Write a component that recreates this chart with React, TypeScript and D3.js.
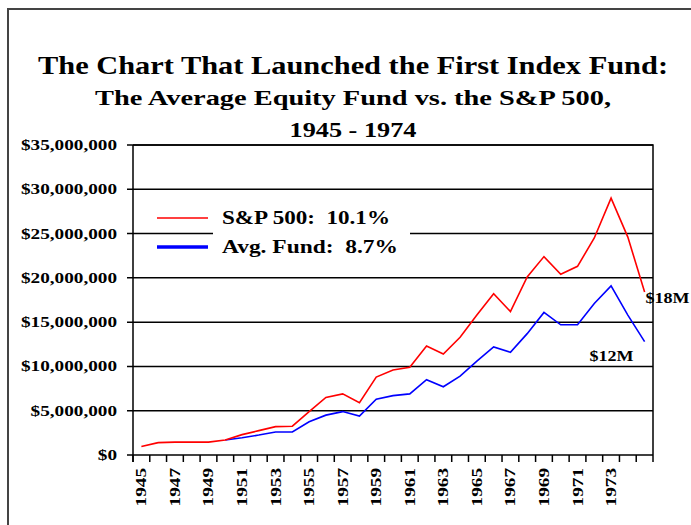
import { useEffect, useRef } from "react";
import * as d3 from "d3";

// values in $ millions, one point per year
const years = [
  1945, 1946, 1947, 1948, 1949, 1950, 1951, 1952, 1953, 1954, 1955, 1956,
  1957, 1958, 1959, 1960, 1961, 1962, 1963, 1964, 1965, 1966, 1967, 1968,
  1969, 1970, 1971, 1972, 1973, 1974, 1975,
];
const sp500 = [
  0.95, 1.4, 1.45, 1.45, 1.45, 1.7, 2.3, 2.75, 3.2, 3.25, 4.9, 6.5, 6.9, 5.9,
  8.8, 9.6, 9.9, 12.3, 11.4, 13.3, 15.8, 18.2, 16.2, 20.1, 22.4, 20.4, 21.3,
  24.5, 29.0, 24.6, 18.4,
];
const avgFund: (number | null)[] = [
  null, null, null, null, null, 1.7, 1.95, 2.25, 2.6, 2.6, 3.75, 4.5, 4.9,
  4.4, 6.3, 6.7, 6.9, 8.5, 7.7, 8.9, 10.6, 12.2, 11.6, 13.7, 16.1, 14.7, 14.7,
  17.1, 19.1, 15.8, 12.8,
];
const yTicks = [0, 5, 10, 15, 20, 25, 30, 35];
const xLabels = [
  1945, 1947, 1949, 1951, 1953, 1955, 1957, 1959, 1961, 1963, 1965, 1967,
  1969, 1971, 1973,
];
const titleLines = [
  "The Chart That Launched the First Index Fund:",
  "The Average Equity Fund vs. the S&P 500,",
  "1945 - 1974",
];
const legendItems = [
  { label: "S&P 500:  10.1%", color: "#ff0000", width: 1.5, len: 168 },
  { label: "Avg. Fund:  8.7%", color: "#0000ff", width: 3.5, len: 176 },
];

const W = 691;
const H = 525;
const FONT = "'Liberation Serif', 'Times New Roman', serif";

export default function App() {
  const svgRef = useRef<SVGSVGElement>(null);

  useEffect(() => {
    if (!svgRef.current) return;
    const svg = d3.select(svgRef.current);
    svg.selectAll("*").remove();

    const left = 133;
    const right = 653;
    const top = 145;
    const bottom = 455;

    const x = d3
      .scaleBand<number>()
      .domain(years)
      .range([left, right])
      .padding(0);
    const cx = (yr: number) => (x(yr) ?? 0) + x.bandwidth() / 2;
    const y = d3.scaleLinear().domain([0, 35]).range([bottom, top]);

    // stretch helper: the original uses a wide bitmap font
    const stretch = (sel: d3.Selection<SVGTextElement, any, any, any>, k: number) =>
      sel.each(function () {
        const len = this.getComputedTextLength();
        d3.select(this)
          .attr("textLength", len * k)
          .attr("lengthAdjust", "spacingAndGlyphs");
      });

    svg.append("rect").attr("width", W).attr("height", H).attr("fill", "#fff");

    // outer frame
    svg
      .append("path")
      .attr("d", `M8,${H} V9 H${W}`)
      .attr("fill", "none")
      .attr("stroke", "#444")
      .attr("stroke-width", 2);

    // titles
    const titleY = [74, 105, 137];
    const titleSize = [26, 22, 22];
    const titleWidth = [630, 516, 127];
    titleLines.forEach((t, i) => {
      svg
        .append("text")
        .attr("x", 353)
        .attr("y", titleY[i])
        .attr("text-anchor", "middle")
        .attr("font-family", FONT)
        .attr("font-weight", "bold")
        .attr("font-size", titleSize[i])
        .attr("textLength", titleWidth[i])
        .attr("lengthAdjust", "spacingAndGlyphs")
        .text(t);
    });

    // gridlines
    svg
      .append("g")
      .selectAll("line")
      .data(yTicks)
      .join("line")
      .attr("x1", left - 6)
      .attr("x2", right)
      .attr("y1", (d) => y(d))
      .attr("y2", (d) => y(d))
      .attr("stroke", "#000")
      .attr("stroke-width", 1.5);

    // y labels
    const yl = svg
      .append("g")
      .selectAll<SVGTextElement, number>("text")
      .data(yTicks)
      .join("text")
      .attr("x", 117)
      .attr("y", (d) => y(d) + 5)
      .attr("text-anchor", "end")
      .attr("font-family", FONT)
      .attr("font-weight", "bold")
      .attr("font-size", 15)
      .text((d) => (d === 0 ? "$0" : d3.format("$,")(d * 1e6)));
    stretch(yl, 1.28);

    // axes frame
    svg
      .append("path")
      .attr("d", `M${left},${top} H${right} V${bottom} M${left},${top} V${bottom + 7}`)
      .attr("fill", "none")
      .attr("stroke", "#000")
      .attr("stroke-width", 1.5);

    // x ticks at band edges
    const edges = years.map((yr) => x(yr) ?? 0).concat([right]);
    svg
      .append("g")
      .selectAll("line")
      .data(edges)
      .join("line")
      .attr("x1", (d) => d)
      .attr("x2", (d) => d)
      .attr("y1", bottom)
      .attr("y2", bottom + 7)
      .attr("stroke", "#000")
      .attr("stroke-width", 1.5);

    // x labels
    const xl = svg
      .append("g")
      .selectAll<SVGTextElement, number>("text")
      .data(xLabels)
      .join("text")
      .attr("transform", (d) => `translate(${cx(d) + 5},${bottom + 13}) rotate(-90)`)
      .attr("text-anchor", "end")
      .attr("font-family", FONT)
      .attr("font-weight", "bold")
      .attr("font-size", 15)
      .text((d) => String(d));
    stretch(xl, 1.28);

    // legend
    svg
      .append("rect")
      .attr("x", 213)
      .attr("y", 205)
      .attr("width", 197)
      .attr("height", 57)
      .attr("fill", "#fff");
    legendItems.forEach((item, i) => {
      const ly = 218 + i * 29;
      svg
        .append("line")
        .attr("x1", 157)
        .attr("x2", 208)
        .attr("y1", ly)
        .attr("y2", ly)
        .attr("stroke", item.color)
        .attr("stroke-width", item.width);
      svg
        .append("text")
        .attr("x", 222)
        .attr("y", ly + 6)
        .attr("font-family", FONT)
        .attr("font-weight", "bold")
        .attr("font-size", 18)
        .style("white-space", "pre")
        .attr("textLength", item.len)
        .attr("lengthAdjust", "spacingAndGlyphs")
        .text(item.label);
    });

    // series
    const line = d3
      .line<number | null>()
      .defined((d) => d !== null)
      .x((_, i) => cx(years[i]))
      .y((d) => y(d as number));

    svg
      .append("path")
      .datum(avgFund)
      .attr("d", line)
      .attr("fill", "none")
      .attr("stroke", "#0000ff")
      .attr("stroke-width", 1.6);
    svg
      .append("path")
      .datum(sp500 as (number | null)[])
      .attr("d", line)
      .attr("fill", "none")
      .attr("stroke", "#ff0000")
      .attr("stroke-width", 1.6);

    // end labels
    const last = years.length - 1;
    const endLabels = [
      { text: "$18M", x: cx(years[last]) + 1, y: y(sp500[last]) + 11 },
      { text: "$12M", x: cx(years[last]) - 55, y: y(avgFund[last] as number) + 19 },
    ];
    endLabels.forEach((l) => {
      const t = svg
        .append("text")
        .attr("x", l.x)
        .attr("y", l.y)
        .attr("font-family", FONT)
        .attr("font-weight", "bold")
        .attr("font-size", 15)
        .text(l.text);
      stretch(t as any, 1.2);
    });
  }, []);

  return (
    <svg
      ref={svgRef}
      width={W}
      height={H}
      style={{ position: "absolute", left: 0, top: 0 }}
    />
  );
}
